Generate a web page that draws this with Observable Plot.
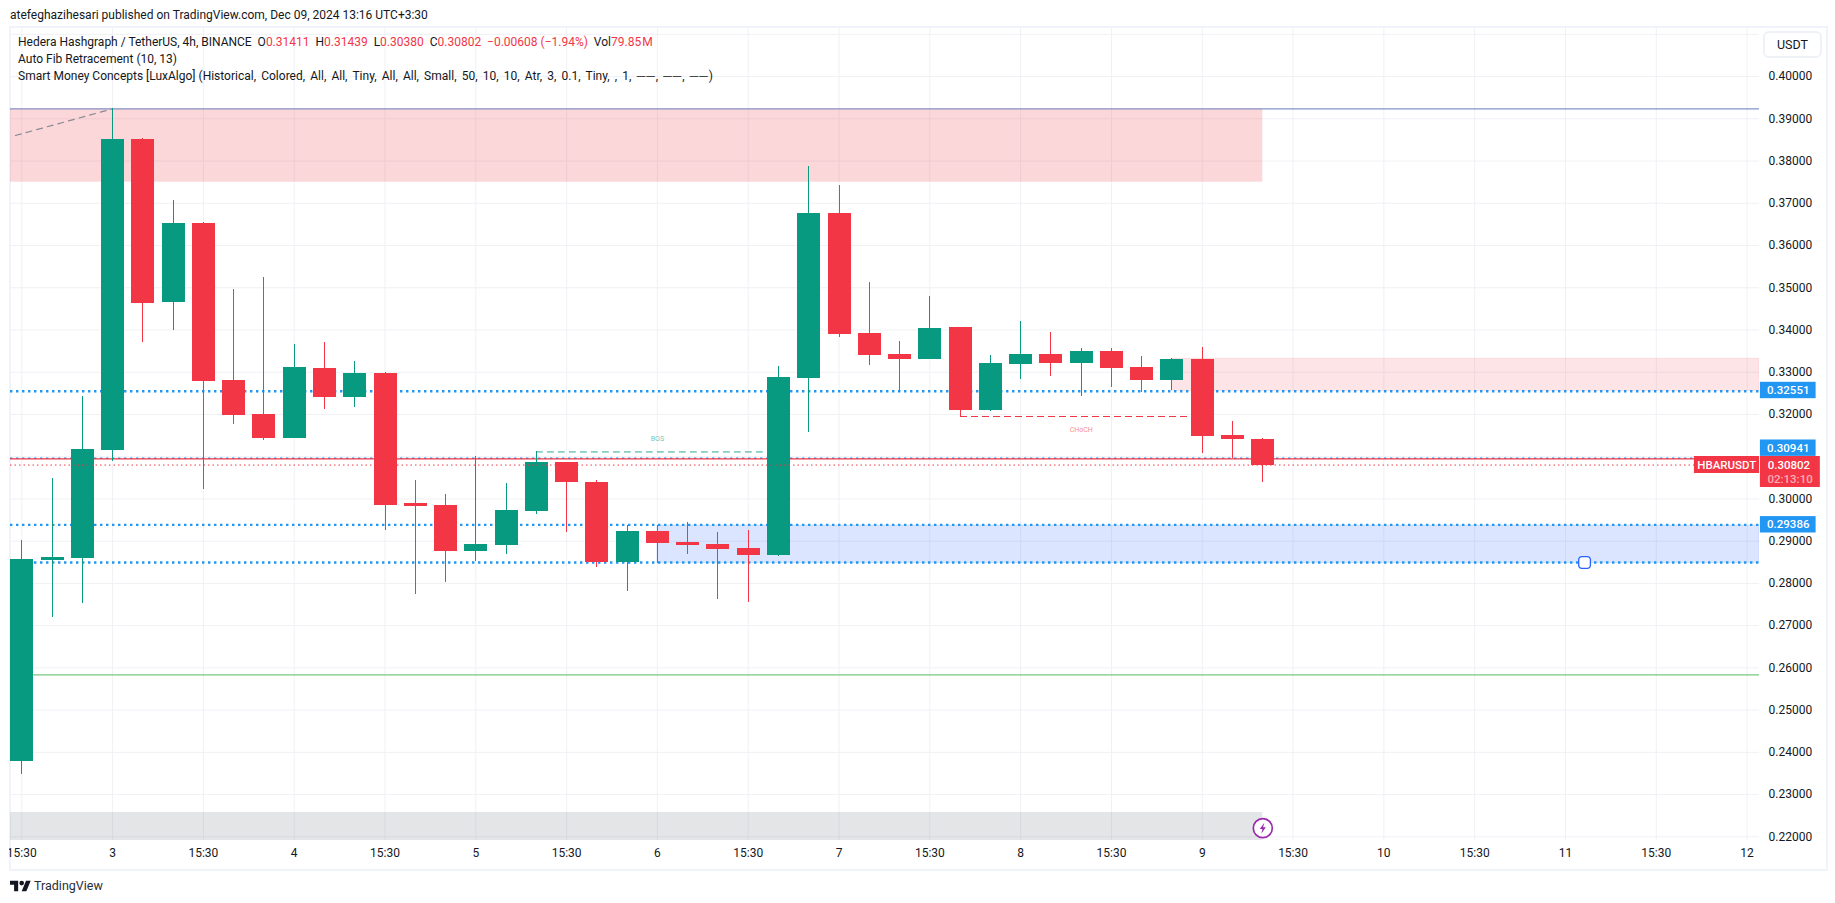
<!DOCTYPE html>
<html>
<head>
<meta charset="utf-8">
<script src="https://cdn.jsdelivr.net/npm/d3@7"></script>
<script src="https://cdn.jsdelivr.net/npm/@observablehq/plot@0.6"></script>
<style>
html,body{margin:0;padding:0;background:#fff;overflow:hidden;width:1835px;height:903px}
body{position:relative;font-family:Roboto,sans-serif;color:#131722}
#chart{position:absolute;left:0;top:0}
.t{position:absolute;white-space:pre;font-size:12px;line-height:17px;font-family:Roboto,sans-serif}
.r{color:#F23645}
</style>
</head>
<body>
<div style="position:absolute;left:9px;top:26px;width:1815px;height:841px;border:2px solid #f0f3fa;pointer-events:none"></div>
<div id="chart"></div>
<div style="position:absolute;left:0;top:26px;width:9px;height:844px;background:#fff"></div>
<div class="t" style="left:10px;top:6.5px">atefeghazihesari published on TradingView.com, Dec 09, 2024 13:16 UTC+3:30</div>
<div class="t" style="left:18px;top:33.5px">Hedera Hashgraph / TetherUS, 4h, BINANCE  O<span class="r">0.31411</span>  H<span class="r">0.31439</span>  L<span class="r">0.30380</span>  C<span class="r">0.30802</span>  <span class="r">−0.00608 (−1.94%)</span>  Vol<span class="r">79.85&#8202;M</span></div>
<div class="t" style="left:18px;top:50.5px">Auto Fib Retracement (10, 13)</div>
<div class="t" style="left:18px;top:67.5px">Smart Money Concepts [LuxAlgo] <span style="word-spacing:2.2px">(Historical, Colored, All, All, Tiny, All, All, Small, 50, 10, 10, Atr, 3, 0.1, Tiny, , 1, <span style="letter-spacing:1px">──</span>, <span style="letter-spacing:1px">──</span>, <span style="letter-spacing:1px">──</span>)</span></div>
<div class="t" style="left:1763px;top:31px;width:55px;height:23px;line-height:23px;font-size:12.5px;border:2px solid #eef1f6;border-radius:6px;background:#fff;text-align:center">USDT</div>
<svg style="position:absolute;left:10px;top:880px" width="21" height="12" viewBox="0 4 36 18"><path fill="#131722" d="M14 22H7V11H0V4h14v18zM28 22h-8l7.5-18h8L28 22z"/><circle fill="#131722" cx="20" cy="8" r="4"/></svg>
<div class="t" style="left:34px;top:877px;font-size:12.5px;color:#2a2e39">TradingView</div>
<script>
// Candles, 4h bars, in order from Dec 2 15:30
const opens  = [.23784,.28543,.28590,.31147,.38511,.34652,.36522,.32805,.32000,.31431,.33089,.32402,.32970,.29892,.29845,.28756,.28898,.29703,.30863,.30390,.28496,.29229,.28969,.28922,.28827,.28661,.32852,.36759,.33918,.33420,.33302,.34060,.32094,.33184,.33420,.33207,.33491,.33113,.32805,.33302,.31503,.31411];
const highs  = [.29016,.30484,.32426,.39238,.38535,.37067,.36546,.34959,.35243,.33657,.33704,.33255,.32994,.30437,.30106,.31005,.30366,.31124,.30863,.30437,.29372,.29372,.29443,.29206,.29253,.33136,.37872,.37422,.35125,.33728,.34794,.34060,.33397,.34202,.33941,.33562,.33562,.33373,.33326,.33586,.31834,.31439];
const lows   = [.23476,.27193,.27525,.30887,.33704,.33989,.30224,.31763,.31384,.31431,.32118,.32165,.29253,.27738,.28022,.28519,.28685,.29632,.29206,.28377,.27809,.28472,.28685,.27620,.27548,.28638,.31574,.33823,.33160,.32521,.33302,.31936,.32071,.32828,.32899,.32426,.32639,.32521,.32568,.31076,.30958,.30380];
const closes = [.28567,.28614,.31171,.38511,.34628,.36522,.32781,.31976,.31431,.33113,.32402,.32970,.29845,.29821,.28756,.28922,.29727,.30863,.30390,.28496,.29229,.28945,.28898,.28803,.28661,.32876,.36759,.33894,.33397,.33302,.34036,.32094,.33207,.33420,.33207,.33491,.33089,.32805,.33302,.31479,.31408,.30802];

// Axes (0.31000 has a gridline, but its label sits behind the price tags)
const priceTicks = [.22,.23,.24,.25,.26,.27,.28,.29,.30,.32,.33,.34,.35,.36,.37,.38,.39,.40];
const priceGrid  = [...priceTicks,.31,.41];
const timeTicks  = [0,3,6,9,12,15,18,21,24,27,30,33,36,39,42,45,48,51,54,57];
const timeLabels = ["15:30","3","15:30","4","15:30","5","15:30","6","15:30","7","15:30","8","15:30","9","15:30","10","15:30","11","15:30","12"];
const xDomain = [-0.373,57.41];
const yDomain = [.21913,.41139];

// Overlays
const supplyTop = [.39238,.37500];
const supplyLow = [.33319,.32551];
const demand    = [.29372,.28480];
const greyBand  = [.22576,.21913];
const fibX = [-0.21,3], fibY = [.38606,.39238];
const dottedBlue = [.32551,.29386,.28496];
const dottedBlueThin = [.30965];
const redLine = .30950, lastPrice = .30802, greenLine = .25836, blueTop = .39238;
const bosX = [17,25], bosY = .31113, chochX = [31,39], chochY = .31945;

// Price tags
const tagNames  = ["0.32551","0.30941","0.29386"];
const tagPrices = [.32568,.31202,.29388];
const tagHalf = .00194;

const candles = opens.map((o,i)=>({i,o,h:highs[i],l:lows[i],c:closes[i]}));
const up = candles.filter(d=>d.c>=d.o), down = candles.filter(d=>d.c<d.o);
const GREEN="#089981", RED="#F23645", BLUE="#2196F3";

const roundedSquare = {draw(ctx,size){const s=Math.sqrt(size)/2,r=3;
  ctx.moveTo(-s+r,-s);ctx.arcTo(s,-s,s,s,r);ctx.arcTo(s,s,-s,s,r);ctx.arcTo(-s,s,-s,-s,r);ctx.arcTo(-s,-s,s,-s,r);ctx.closePath();}};
const bolt = {draw(ctx){ctx.moveTo(1.5,-5.5);ctx.lineTo(-3,0.8);ctx.lineTo(-0.3,0.8);ctx.lineTo(-1.5,5.5);ctx.lineTo(3,-0.8);ctx.lineTo(0.3,-0.8);ctx.closePath();}};

const gridStyle = {stroke:"#eff1f5",strokeOpacity:1,strokeWidth:1};
const chart = Plot.plot({
  width:1835,height:903,marginLeft:10,marginRight:76,marginTop:28,marginBottom:63,
  style:{background:"transparent",fontFamily:"Roboto,sans-serif",fontSize:"12px",color:"#131722"},
  x:{domain:xDomain},y:{domain:yDomain},
  marks:[
    Plot.gridX(timeTicks,gridStyle),
    Plot.gridY(priceGrid,gridStyle),
    Plot.rect([0],{x1:xDomain[0],x2:41,y1:supplyTop[1],y2:supplyTop[0],fill:RED,fillOpacity:.2,clip:true}),
    Plot.rect([0],{x1:38,x2:xDomain[1],y1:supplyLow[1],y2:supplyLow[0],fill:RED,fillOpacity:.13,stroke:RED,strokeOpacity:.1,clip:true}),
    Plot.rect([0],{x1:21,x2:xDomain[1],y1:demand[1],y2:demand[0],fill:"#2962FF",fillOpacity:.17,stroke:"#2962FF",strokeOpacity:.12,clip:true}),
    Plot.rect([0],{x1:xDomain[0],x2:41,y1:greyBand[1],y2:greyBand[0],fill:"#787b86",fillOpacity:.2,clip:true}),
    Plot.ruleY([greenLine],{stroke:"#78c87c",strokeWidth:1.3}),
    Plot.ruleY([blueTop],{stroke:"#8496c6",strokeWidth:1.3}),
    Plot.line(fibX.map((x,k)=>[x,fibY[k]]),{stroke:"#8a8a92",strokeWidth:1.2,strokeDasharray:"6,5"}),
    Plot.ruleY(dottedBlue,{stroke:BLUE,strokeWidth:2.4,strokeDasharray:"2.4,3.6"}),
    Plot.ruleY(dottedBlueThin,{stroke:BLUE,strokeWidth:1.5,strokeDasharray:"2.4,3.6"}),
    Plot.ruleY([redLine],{stroke:RED,strokeWidth:1.3}),
    Plot.line(bosX.map(x=>[x,bosY]),{stroke:GREEN,strokeWidth:1,strokeOpacity:.85,strokeDasharray:"6,5"}),
    Plot.line(chochX.map(x=>[x,chochY]),{stroke:RED,strokeWidth:1.2,strokeDasharray:"6,5",shapeRendering:"crispEdges"}),
    Plot.text(["BOS"],{x:21,y:.31420,fill:GREEN,fillOpacity:.6,fontSize:7}),
    Plot.text(["CHoCH"],{x:35,y:.31650,fill:RED,fillOpacity:.6,fontSize:7}),
    Plot.ruleX(up,{x:"i",y1:"l",y2:"h",stroke:GREEN,strokeWidth:1,shapeRendering:"crispEdges",clip:true}),
    Plot.ruleX(down,{x:"i",y1:"l",y2:"h",stroke:RED,strokeWidth:1,shapeRendering:"crispEdges",clip:true}),
    Plot.ruleX(up,{x:"i",y1:"o",y2:"c",stroke:GREEN,strokeWidth:23,shapeRendering:"crispEdges",clip:true}),
    Plot.ruleX(down,{x:"i",y1:"o",y2:"c",stroke:RED,strokeWidth:23,shapeRendering:"crispEdges",clip:true}),
    Plot.ruleY([lastPrice],{stroke:RED,strokeWidth:1,strokeDasharray:"1.5,3"}),
    Plot.dot([0],{x:51.63,y:.28496,symbol:roundedSquare,r:6.6,fill:"#fff",stroke:"#2962FF",strokeWidth:1.3}),
    Plot.dot([0],{x:41,y:.22205,r:9.5,fill:"#fff",stroke:"#9c27b0",strokeWidth:1.7}),
    Plot.dot([0],{x:41,y:.22205,symbol:bolt,r:5,fill:"#9c27b0",stroke:"none"}),
    Plot.axisY(priceTicks,{anchor:"right",tickSize:0,tickPadding:9,tickFormat:d3.format(".5f"),label:null}),
    Plot.axisX(timeTicks,{anchor:"bottom",tickSize:0,tickPadding:8,tickFormat:d=>timeLabels[timeTicks.indexOf(d)],label:null}),
    Plot.rect(tagPrices,{x1:57.44,x2:59.28,y1:d=>d-tagHalf,y2:d=>d+tagHalf,fill:BLUE}),
    Plot.text(tagPrices,{x:58.36,y:d=>d,text:(d,k)=>tagNames[k],fill:"#fff",fontWeight:500,fontSize:11.5}),
    Plot.rect([0],{x1:57.44,x2:59.42,y1:.30271,y2:.31005,fill:RED}),
    Plot.rect([0],{x1:55.26,x2:57.41,y1:.30603,y2:.31005,fill:RED}),
    Plot.text(["HBARUSDT"],{x:56.33,y:lastPrice,fill:"#fff",fontWeight:500,fontSize:11.5}),
    Plot.text(["0.30802"],{x:58.38,y:lastPrice,fill:"#fff",fontWeight:500,fontSize:11.5}),
    Plot.text(["02:13:10"],{x:58.42,y:.30460,fill:"#fff",fillOpacity:.6,fontWeight:500,fontSize:11.5}),
  ]
});
document.getElementById("chart").appendChild(chart);
</script>
</body>
</html>
